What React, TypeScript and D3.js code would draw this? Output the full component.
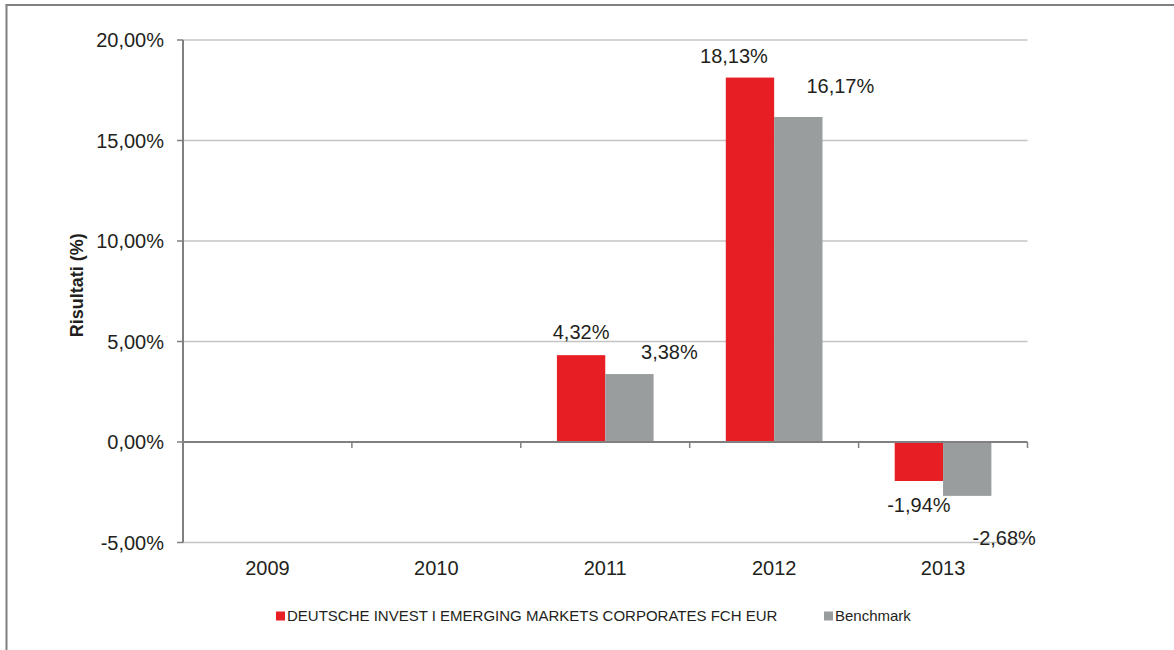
import React, { useRef, useEffect } from "react";
import * as d3 from "d3";

const years = ["2009", "2010", "2011", "2012", "2013"];
const fundValues: (number | null)[] = [null, null, 4.32, 18.13, -1.94];
const benchmarkValues: (number | null)[] = [null, null, 3.38, 16.17, -2.68];
const yTicks = [-5, 0, 5, 10, 15, 20];
const seriesNames = ["DEUTSCHE INVEST I EMERGING MARKETS CORPORATES FCH EUR", "Benchmark"];
const seriesColors = ["#e81e25", "#9a9d9e"];

// manual label nudges (dx, dy from bar end), as placed in the original
const labelNudge = [
	[null, null, [0, -16], [-16, -15], [0, 31]],
	[null, null, [40, -15], [42, -24], [37, 49]],
];

const fmt = (v: number) => v.toFixed(2).replace(".", ",") + "%";

const ResultsChart = () => {
	const svgRef = useRef<SVGSVGElement | null>(null);

	useEffect(() => {
		if (!svgRef.current) return;
		const svg = d3.select(svgRef.current);
		svg.selectAll("*").remove();

		const width = 1174;
		const height = 650;
		const font = "'Liberation Sans', Arial, Helvetica, sans-serif";
		const left = 183;
		const right = 1027.5;
		const top = 40;
		const bottom = 542.5;

		// outer frame (left + top)
		svg.append("line").attr("x1", 6.5).attr("x2", 6.5).attr("y1", 5).attr("y2", height)
			.attr("stroke", "#808080").attr("stroke-width", 2);
		svg.append("line").attr("x1", 5.5).attr("x2", width).attr("y1", 5).attr("y2", 5)
			.attr("stroke", "#808080").attr("stroke-width", 2);

		const y = d3.scaleLinear().domain([-5, 20]).range([bottom, top]);
		const x0 = d3.scaleBand().domain(years).range([left, right]).padding(0);
		const x1 = d3.scaleBand<number>().domain([0, 1]).range([0, x0.bandwidth()])
			.paddingInner(0).paddingOuter(0.747);

		// gridlines
		svg.append("g").selectAll("line").data(yTicks.filter((t) => t !== 0)).join("line")
			.attr("x1", left).attr("x2", right)
			.attr("y1", (d) => y(d)).attr("y2", (d) => y(d))
			.attr("stroke", "#c4c4c4").attr("stroke-width", 1.5);

		// bars
		const series = [fundValues, benchmarkValues];
		series.forEach((vals, si) => {
			svg.append("g").selectAll("rect")
				.data(years.map((yr, i) => ({ yr, v: vals[i] })).filter((d) => d.v !== null))
				.join("rect")
				.attr("x", (d) => x0(d.yr)! + x1(si)!)
				.attr("width", x1.bandwidth())
				.attr("y", (d) => y(Math.max(0, d.v as number)))
				.attr("height", (d) => Math.abs(y(d.v as number) - y(0)))
				.attr("fill", seriesColors[si]);
		});

		// y axis
		const yAxis = svg.append("g");
		yAxis.append("line").attr("x1", left).attr("x2", left).attr("y1", top).attr("y2", bottom)
			.attr("stroke", "#808080").attr("stroke-width", 2);
		yAxis.selectAll("line.tick").data(yTicks).join("line").attr("class", "tick")
			.attr("x1", left - 6).attr("x2", left)
			.attr("y1", (d) => y(d)).attr("y2", (d) => y(d))
			.attr("stroke", "#808080").attr("stroke-width", 1.5);
		yAxis.selectAll("text").data(yTicks).join("text")
			.attr("x", left - 19).attr("y", (d) => y(d) + 7)
			.attr("text-anchor", "end")
			.style("font-family", font).style("font-size", "20px").attr("fill", "#231f20")
			.text((d) => fmt(d));

		// zero line with category ticks
		svg.append("line").attr("x1", left).attr("x2", right).attr("y1", y(0)).attr("y2", y(0))
			.attr("stroke", "#808080").attr("stroke-width", 2);
		const bounds = years.map((yr) => x0(yr)!).concat([right]);
		svg.append("g").selectAll("line").data(bounds).join("line")
			.attr("x1", (d) => d).attr("x2", (d) => d)
			.attr("y1", y(0)).attr("y2", y(0) + 6)
			.attr("stroke", "#808080").attr("stroke-width", 1.5);

		// category labels
		svg.append("g").selectAll("text").data(years).join("text")
			.attr("x", (d) => x0(d)! + x0.bandwidth() / 2)
			.attr("y", bottom + 32.5)
			.attr("text-anchor", "middle")
			.style("font-family", font).style("font-size", "20px").attr("fill", "#231f20")
			.text((d) => d);

		// value labels
		series.forEach((vals, si) => {
			years.forEach((yr, i) => {
				const v = vals[i];
				const n = labelNudge[si][i];
				if (v === null || !n) return;
				const cx = x0(yr)! + x1(si)! + x1.bandwidth() / 2;
				svg.append("text")
					.attr("x", cx + n[0])
					.attr("y", y(v) + n[1])
					.attr("text-anchor", "middle")
					.style("font-family", font).style("font-size", "20px").attr("fill", "#231f20")
					.text(fmt(v));
			});
		});

		// y axis title
		svg.append("text")
			.attr("transform", `translate(83,${(top + bottom) / 2 - 6}) rotate(-90)`)
			.attr("text-anchor", "middle")
			.style("font-family", font).style("font-size", "18px").style("font-weight", "bold")
			.attr("fill", "#231f20")
			.text("Risultati (%)");

		// legend
		const legendX = [276, 824];
		const lg = svg.append("g");
		seriesNames.forEach((name, i) => {
			lg.append("rect").attr("x", legendX[i]).attr("y", 611.5).attr("width", 9).attr("height", 9)
				.attr("fill", seriesColors[i]);
			lg.append("text").attr("x", legendX[i] + 11).attr("y", 621)
				.style("font-family", font).style("font-size", "15px").attr("fill", "#231f20")
				.text(name);
		});
	}, []);

	return (
		<svg ref={svgRef} width={1174} height={650}
			style={{ position: "absolute", left: 0, top: 0, background: "#fff" }}></svg>
	);
};

export default function App() {
	return <ResultsChart />;
}
